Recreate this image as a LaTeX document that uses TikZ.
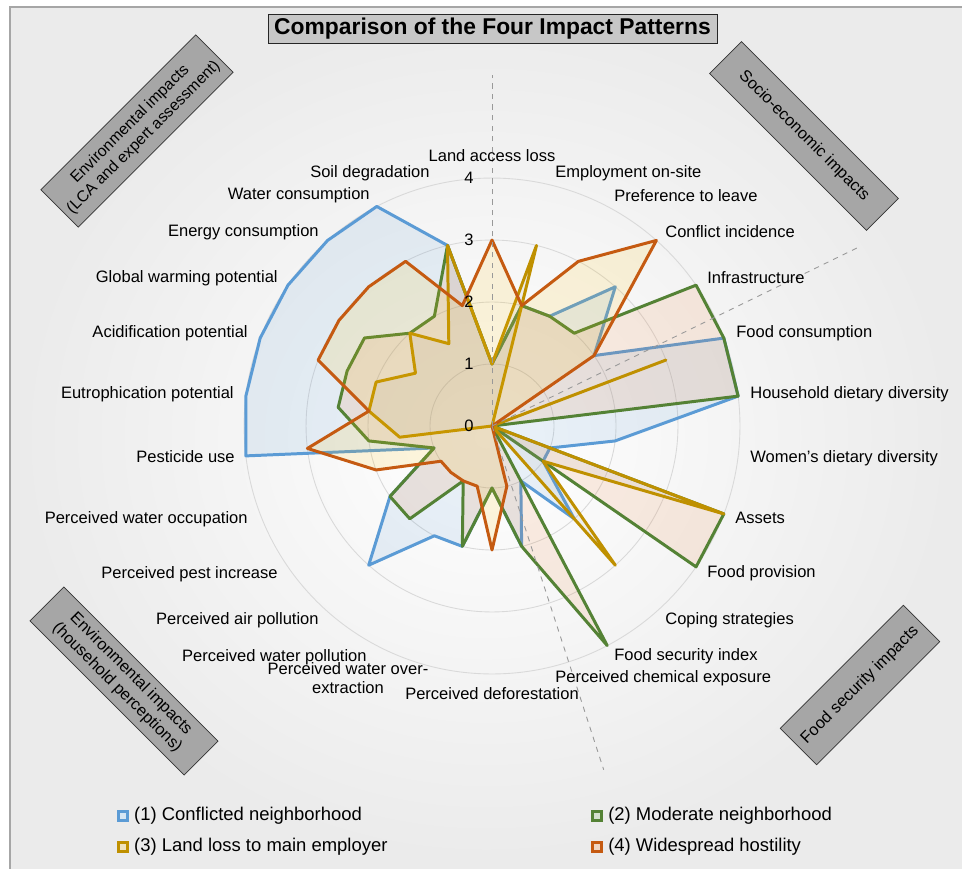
\documentclass[tikz,border=0pt]{standalone}
\usepackage{fontspec}
\setmainfont{Liberation Sans}
\usetikzlibrary{positioning}
\definecolor{ser1}{HTML}{5B9BD5}
\definecolor{ser2}{HTML}{548235}
\definecolor{ser3}{HTML}{BF9000}
\definecolor{ser4}{HTML}{C55A11}
\definecolor{fil1}{HTML}{5B9BD5}
\definecolor{fil2}{HTML}{ED7D31}
\definecolor{fil3}{HTML}{A5A5A5}
\definecolor{fil4}{HTML}{FFC000}
\tikzstyle{titlebox} = [rectangle, draw=black!85, fill=black!22, inner sep=0pt,
	minimum width=8.98cm, minimum height=0.58cm, font=\bfseries\fontsize{13}{15}\selectfont]
\tikzstyle{catbox} = [rectangle, draw=black!80, fill=black!35, align=center,
	inner sep=0pt, font=\fontsize{9.3}{11}\selectfont]
\tikzstyle{axlabel} = [inner sep=0pt, font=\fontsize{9.4}{11}\selectfont]
\tikzstyle{ring} = [draw=black!15, line width=0.5pt]
\tikzstyle{sepline} = [draw=black!40, dashed, line width=0.5pt]
\tikzstyle{series} = [line width=1.7pt, line join=round, fill opacity=0.13]
\tikzstyle{legmark} = [rectangle, line width=1.4pt, minimum size=5pt, inner sep=0pt]
\tikzstyle{legtext} = [inner sep=0pt, font=\fontsize{10.5}{12}\selectfont]

\begin{document}
\begin{tikzpicture}[x=0.02cm, y=-0.02cm, node distance=3pt]
	% Background
	\useasboundingbox (0,0) rectangle (962,868);
	\shade[inner color=white, outer color=black!8] (10,7) rectangle (962,868);
	\draw[black!35, line width=0.6pt] (975,7) -- (10,7) -- (10,880);
	% Title
	\node [titlebox] (title) at (492.5,28.5) {Comparison of the Four Impact Patterns};
	% Radar grid and series
	\begin{scope}[shift={(492,426)}, x=1.24cm, y=1.24cm]
		\coordinate (c) at (0,0);
		\draw[ring] (c) circle (1);
		\draw[ring] (c) circle (2);
		\draw[ring] (c) circle (3);
		\draw[ring] (c) circle (4);
		% (1) Conflicted neighborhood
		\path[series, draw=ser1, fill=fil1] (90:1) -- (76.154:2) -- (62.308:2) -- (48.462:3)
			-- (34.615:2) -- (20.769:4) -- (6.923:4) -- (-6.923:2) -- (-20.769:1) -- (-34.615:1)
			-- (-48.462:2) -- (-62.308:1) -- (-76.154:2) -- (-90:1) -- (-103.846:2) -- (-117.692:2)
			-- (-131.538:3) -- (-145.385:2) -- (-159.231:1) -- (-173.077:4) -- (173.077:4)
			-- (159.231:4) -- (145.385:4) -- (131.538:4) -- (117.692:4) -- (103.846:3) -- cycle;
		% (2) Moderate neighborhood
		\path[series, draw=ser2, fill=fil2] (90:1) -- (76.154:2) -- (62.308:2) -- (48.462:2)
			-- (34.615:4) -- (20.769:4) -- (6.923:4) -- (-6.923:0) -- (-20.769:4) -- (-34.615:4)
			-- (-48.462:0) -- (-62.308:4) -- (-76.154:2) -- (-90:1) -- (-103.846:2) -- (-117.692:1)
			-- (-131.538:2) -- (-145.385:2) -- (-159.231:1) -- (-173.077:2) -- (173.077:2.5)
			-- (159.231:2.5) -- (145.385:2.5) -- (131.538:2) -- (117.692:2) -- (103.846:3) -- cycle;
		% (3) Land loss to main employer
		\path[series, draw=ser3, fill=fil3] (90:1) -- (76.154:3) -- (62.308:0) -- (48.462:0)
			-- (34.615:0) -- (20.769:3) -- (6.923:0) -- (-6.923:0) -- (-20.769:4) -- (-34.615:1)
			-- (-48.462:3) -- (-62.308:0) -- (-76.154:0) -- (-90:0) -- (-103.846:0) -- (-117.692:0)
			-- (-131.538:0) -- (-145.385:0) -- (-159.231:0) -- (-173.077:1.5) -- (173.077:2)
			-- (159.231:2) -- (145.385:1.5) -- (131.538:2) -- (117.692:1.5) -- (103.846:3) -- cycle;
		% (4) Widespread hostility
		\path[series, draw=ser4, fill=fil4] (90:3) -- (76.154:2) -- (62.308:3) -- (48.462:4)
			-- (34.615:2) -- (20.769:0) -- (6.923:0) -- (-6.923:0) -- (-20.769:0) -- (-34.615:0)
			-- (-48.462:0) -- (-62.308:0) -- (-76.154:1) -- (-90:2) -- (-103.846:1) -- (-117.692:1)
			-- (-131.538:1) -- (-145.385:1) -- (-159.231:2) -- (-173.077:3) -- (173.077:2)
			-- (159.231:3) -- (145.385:3) -- (131.538:3) -- (117.692:3) -- (103.846:2) -- cycle;
		% Group separators
		\coordinate (sepn) at (90:5.66);
		\coordinate (sepe) at (26:6.55);
		\coordinate (seps) at (-72:5.83);
		\draw[sepline] (c) -- (sepn);
		\draw[sepline] (c) -- (sepe);
		\draw[sepline] (c) -- (seps);
		% Scale values
		\node [axlabel] (v0) at (-0.37,0) {0};
		\node [axlabel] (v1) at (-0.37,1) {1};
		\node [axlabel] (v2) at (-0.37,2) {2};
		\node [axlabel] (v3) at (-0.37,3) {3};
		\node [axlabel] (v4) at (-0.37,4) {4};
	\end{scope}
	% Axis labels, right half
	\node [axlabel] (landaccess) at (492,156) {Land access loss};
	\node [axlabel, anchor=west] (employment) at (555,173) {Employment on-site};
	\node [axlabel, anchor=west] (preference) at (614,196) {Preference to leave};
	\node [axlabel, anchor=west] (conflict) at (665,232) {Conflict incidence};
	\node [axlabel, anchor=west] (infra) at (707,278) {Infrastructure};
	\node [axlabel, anchor=west] (foodcons) at (736,333) {Food consumption};
	\node [axlabel, anchor=west] (hdd) at (750,394) {Household dietary diversity};
	\node [axlabel, anchor=west] (wdd) at (750,458) {Women’s dietary diversity};
	\node [axlabel, anchor=west] (assets) at (735,518) {Assets};
	\node [axlabel, anchor=west] (foodprov) at (707,573) {Food provision};
	\node [axlabel, anchor=west] (coping) at (665,620) {Coping strategies};
	\node [axlabel, anchor=west] (fsi) at (614,656) {Food security index};
	\node [axlabel, anchor=west] (chemical) at (555,678) {Perceived chemical exposure};
	% Axis labels, left half
	\node [axlabel] (deforest) at (492,694) {Perceived deforestation};
	\node [axlabel, align=center] (overextr) at (348,678) {Perceived water over-\\extraction};
	\node [axlabel, anchor=east] (waterpoll) at (367,657) {Perceived water pollution};
	\node [axlabel, anchor=east] (airpoll) at (319,620) {Perceived air pollution};
	\node [axlabel, anchor=east] (pest) at (278,574) {Perceived pest increase};
	\node [axlabel, anchor=east] (occupation) at (248,519) {Perceived water occupation};
	\node [axlabel, anchor=east] (pesticide) at (235,457) {Pesticide use};
	\node [axlabel, anchor=east] (eutro) at (234,394) {Eutrophication potential};
	\node [axlabel, anchor=east] (acid) at (248,333) {Acidification potential};
	\node [axlabel, anchor=east] (gwp) at (278,278) {Global warming potential};
	\node [axlabel, anchor=east] (energy) at (319,232) {Energy consumption};
	\node [axlabel, anchor=east] (water) at (370,195) {Water consumption};
	\node [axlabel, anchor=east] (soil) at (430,173) {Soil degradation};
	% Group boxes
	\node [catbox, rotate=45, minimum width=4.38cm, minimum height=1.06cm,
		font=\fontsize{9}{10.8}\selectfont] (envlca) at (137,131)
		{Environmental impacts\\(LCA and expert assessment)};
	\node [catbox, rotate=-45, minimum width=4.44cm, minimum height=0.9cm] (socio) at (804,136)
		{Socio-economic impacts};
	\node [catbox, rotate=-45, minimum width=4.36cm, minimum height=0.96cm] (envhh) at (124,681)
		{Environmental impacts\\(household perceptions)};
	\node [catbox, rotate=45, minimum width=3.48cm, minimum height=1.03cm] (foodsec) at (860,685)
		{Food security impacts};
	% Legend
	\node [legmark, draw=ser1, fill=fil1!25] (mark1) at (123,816) {};
	\node [legtext, right=of mark1] (leg1) {(1) Conflicted neighborhood};
	\node [legmark, draw=ser2, fill=ser2!25] (mark2) at (597,816) {};
	\node [legtext, right=of mark2] (leg2) {(2) Moderate neighborhood};
	\node [legmark, draw=ser3, fill=ser3!25] (mark3) at (123,847) {};
	\node [legtext, right=of mark3] (leg3) {(3) Land loss to main employer};
	\node [legmark, draw=ser4, fill=ser4!25] (mark4) at (597,847) {};
	\node [legtext, right=of mark4] (leg4) {(4) Widespread hostility};
\end{tikzpicture}
\end{document}
